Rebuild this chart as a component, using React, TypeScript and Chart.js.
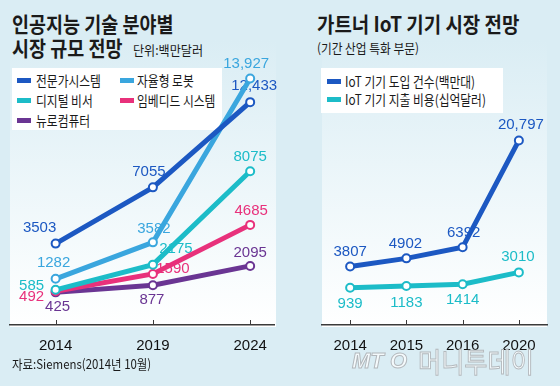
import React, { useEffect, useRef } from 'react';
import { Chart, registerables } from 'chart.js';

Chart.register(...registerables);

// ---------------- data ----------------
const leftYears = ['2014', '2019', '2024'];
const expertSystems = [3503, 7055, 12433];
const autonomousRobots = [1282, 3582, 13927];
const digitalAssistants = [585, 2175, 8075];
const embeddedSystems = [492, 1590, 4685];
const neuroComputers = [425, 877, 2095];
const leftNames = ['전문가시스템', '자율형 로봇', '디지털 비서', '임베디드 시스템', '뉴로컴퓨터'];

const rightYears = ['2014', '2015', '2016', '2020'];
const iotDevices = [3807, 4902, 6392, 20797];
const iotSpending = [939, 1183, 1414, 3010];
const rightNames = ['IoT 기기 도입 건수(백만대)', 'IoT 기기 지출 비용(십억달러)'];

// ---------------- styles ----------------
const NAVY = '#1c58c2';
const SKY = '#3aa6de';
const TEAL = '#1cbcc8';
const PINK = '#e8317b';
const PURPLE = '#6a3593';
const BG = '#daedf4';
const CJK = '"Noto Sans CJK KR", "Noto Sans", sans-serif';
const NUM = '"Liberation Sans", Arial, sans-serif';

const leftColors = [NAVY, SKY, TEAL, PINK, PURPLE];
const leftLabelOffsets = [
  [[-16, -16], [-4, -15], [4, -16]],
  [[-2, -16], [1, -14], [-4, -15]],
  [[-24, -4], [23, -16], [0, -14]],
  [[-24, 6], [20, -5], [1, -14]],
  [[2, 14], [-1, 15], [0, -13]],
];
const rightColors = [NAVY, TEAL];
const rightLabelOffsets = [
  [[0, -15], [-1, -15], [1, -14], [2, -16]],
  [[0, 16], [0, 17], [0, 16], [-1, -16]],
];

const fmt = (v: number) => (v >= 10000 ? v.toLocaleString('en-US') : String(v));

function labelPlugin(offsets: number[][][]) {
  return {
    id: 'valueLabels',
    beforeDatasetsDraw(chart: any) {
      const ctx = chart.ctx;
      ctx.save();
      ctx.font = `15px ${NUM}`;
      ctx.textAlign = 'center';
      ctx.textBaseline = 'middle';
      chart.data.datasets.forEach((ds: any, i: number) => {
        const meta = chart.getDatasetMeta(i);
        meta.data.forEach((pt: any, j: number) => {
          const raw = ds.data[j];
          const v = typeof raw === 'number' ? raw : raw.y;
          const [dx, dy] = offsets[i][j];
          ctx.fillStyle = ds.borderColor;
          ctx.fillText(fmt(v), pt.x + dx, pt.y + dy);
        });
      });
      ctx.restore();
    },
  };
}

const tickMarks = {
  id: 'tickMarks',
  afterDraw(chart: any) {
    const x = chart.scales.x;
    const ctx = chart.ctx;
    const b = chart.chartArea.bottom;
    ctx.save();
    ctx.strokeStyle = '#3a3a3a';
    ctx.lineWidth = 1;
    x.ticks.forEach((_t: any, i: number) => {
      const px = Math.round(x.getPixelForTick(i)) + 0.5;
      ctx.beginPath();
      ctx.moveTo(px, b);
      ctx.lineTo(px, b - 5);
      ctx.stroke();
    });
    ctx.restore();
  },
};

function lineDataset(label: string, data: any[], color: string) {
  return {
    label,
    data,
    borderColor: color,
    backgroundColor: color,
    borderWidth: 5,
    pointRadius: 4,
    pointBorderWidth: 2,
    pointBackgroundColor: '#ffffff',
    pointBorderColor: color,
    tension: 0,
    fill: false,
  };
}

const xTickStyle = {
  color: '#111',
  font: { size: 15, family: NUM },
  padding: 4,
  maxRotation: 0,
  autoSkip: false,
};

function LeftChart() {
  const ref = useRef<HTMLCanvasElement>(null);
  useEffect(() => {
    const series = [expertSystems, autonomousRobots, digitalAssistants, embeddedSystems, neuroComputers];
    const chart = new Chart(ref.current as HTMLCanvasElement, {
      type: 'line',
      data: {
        datasets: series.map((vals, i) =>
          lineDataset(leftNames[i], vals.map((v, j) => ({ x: j, y: v })), leftColors[i])
        ),
      },
      options: {
        animation: false,
        responsive: false,
        devicePixelRatio: 1,
        events: [],
        layout: { padding: { left: 10, right: 4, top: 61, bottom: 27 } },
        plugins: { legend: { display: false }, tooltip: { enabled: false } },
        scales: {
          x: {
            type: 'linear',
            min: -0.469,
            max: 2.245,
            afterBuildTicks: (s: any) => {
              s.ticks = leftYears.map((_, i) => ({ value: i }));
            },
            ticks: { ...xTickStyle, callback: (v: any) => leftYears[v] },
            grid: { display: false },
            border: { display: true, color: '#3a3a3a', width: 1.5 },
          },
          y: { display: false, min: -1635, max: 15031 },
        },
      } as any,
      plugins: [labelPlugin(leftLabelOffsets), tickMarks],
    });
    return () => chart.destroy();
  }, []);
  return (
    <canvas ref={ref} width={280} height={386} style={{ position: 'absolute', left: 0, top: 0 }} />
  );
}

function RightChart() {
  const ref = useRef<HTMLCanvasElement>(null);
  useEffect(() => {
    const series = [iotDevices, iotSpending];
    const chart = new Chart(ref.current as HTMLCanvasElement, {
      type: 'line',
      data: {
        labels: rightYears,
        datasets: series.map((vals, i) => lineDataset(rightNames[i], vals, rightColors[i])),
      },
      options: {
        animation: false,
        responsive: false,
        devicePixelRatio: 1,
        events: [],
        layout: { padding: { left: 32, right: 13, top: 61, bottom: 27 } },
        plugins: { legend: { display: false }, tooltip: { enabled: false } },
        scales: {
          x: {
            type: 'category',
            offset: true,
            ticks: xTickStyle,
            grid: { display: false },
            border: { display: true, color: '#3a3a3a', width: 1.5 },
          },
          y: { display: false, min: -4080, max: 31505 },
        },
      } as any,
      plugins: [labelPlugin(rightLabelOffsets), tickMarks],
    });
    return () => chart.destroy();
  }, []);
  return (
    <canvas ref={ref} width={270} height={386} style={{ position: 'absolute', left: 290, top: 0 }} />
  );
}

function Txt(props: {
  x: number; cy: number; size: number; scale?: number; weight?: number; color?: string;
  family?: string; style?: any; children: any;
}) {
  const lh = Math.round(props.size * 1.25);
  return (
    <div
      style={{
        position: 'absolute',
        left: props.x,
        top: props.cy - lh / 2,
        fontSize: props.size,
        lineHeight: `${lh}px`,
        fontWeight: props.weight || 400,
        color: props.color || '#1a1a1a',
        fontFamily: props.family || CJK,
        whiteSpace: 'nowrap',
        transform: `scaleX(${props.scale || 1})`,
        transformOrigin: 'left center',
        ...(props.style || {}),
      }}
    >
      {props.children}
    </div>
  );
}

function Bar({ x, cy, color }: { x: number; cy: number; color: string }) {
  return (
    <div style={{ position: 'absolute', left: x, top: cy - 2.5, width: 14, height: 5, background: color }} />
  );
}

export default function App() {
  return (
    <div
      style={{
        position: 'absolute',
        left: 0,
        top: 0,
        width: 560,
        height: 386,
        overflow: 'hidden',
        background: BG,
        fontFamily: CJK,
      }}
    >
      {/* plot panels */}
      <div style={{ position: 'absolute', left: 10, top: 40, width: 266, height: 287, background: `linear-gradient(to bottom, ${BG} 0%, #f4fafc 70%, #ffffff 100%)` }} />
      <div style={{ position: 'absolute', left: 322, top: 40, width: 225, height: 287, background: `linear-gradient(to bottom, ${BG} 0%, #f4fafc 70%, #ffffff 100%)` }} />

      {/* left titles */}
      <Txt x={12} cy={22.5} size={21} weight={700} scale={0.88}>인공지능 기술 분야별</Txt>
      <Txt x={12} cy={47} size={21} weight={700} scale={0.88}>시장 규모 전망</Txt>
      <Txt x={133} cy={50} size={13} scale={0.93}>단위:백만달러</Txt>

      {/* left legend */}
      <div style={{ position: 'absolute', left: 12, top: 68, width: 210, height: 62, background: '#ffffff' }} />
      <Bar x={17} cy={80} color={NAVY} />
      <Txt x={36} cy={80} size={14} scale={0.84}>{leftNames[0]}</Txt>
      <Bar x={120} cy={80} color={SKY} />
      <Txt x={137} cy={80} size={14} scale={0.84}>{leftNames[1]}</Txt>
      <Bar x={17} cy={100} color={TEAL} />
      <Txt x={36} cy={100} size={14} scale={0.84}>{leftNames[2]}</Txt>
      <Bar x={120} cy={100} color={PINK} />
      <Txt x={137} cy={100} size={14} scale={0.84}>{leftNames[3]}</Txt>
      <Bar x={17} cy={120} color={PURPLE} />
      <Txt x={36} cy={120} size={14} scale={0.84}>{leftNames[4]}</Txt>

      {/* right titles */}
      <Txt x={317} cy={22.5} size={21} weight={700} scale={0.9}>가트너 IoT 기기 시장 전망</Txt>
      <Txt x={317} cy={48} size={13} scale={0.9}>(기간 산업 특화 부문)</Txt>

      {/* right legend */}
      <div style={{ position: 'absolute', left: 321, top: 68, width: 182, height: 45, background: '#ffffff' }} />
      <Bar x={327} cy={81} color={NAVY} />
      <Txt x={345} cy={81} size={14} scale={0.84}>{rightNames[0]}</Txt>
      <Bar x={327} cy={99} color={TEAL} />
      <Txt x={345} cy={99} size={14} scale={0.84}>{rightNames[1]}</Txt>

      <LeftChart />
      <RightChart />

      {/* source */}
      <Txt x={12} cy={364} size={13} scale={0.88}>자료:Siemens(2014년 10월)</Txt>

      {/* watermark */}
      <Txt x={352} cy={361} size={22} weight={700} family={NUM}
        style={{ fontStyle: 'italic', color: 'rgba(255,255,255,0.7)', WebkitTextStroke: '1px #b3b8bc' }}>
        MT O
      </Txt>
      <Txt x={418} cy={361} size={28} scale={0.9}
        style={{ color: 'rgba(255,255,255,0.7)', WebkitTextStroke: '1px #b3b8bc' }}>
        머니투데이
      </Txt>
    </div>
  );
}
